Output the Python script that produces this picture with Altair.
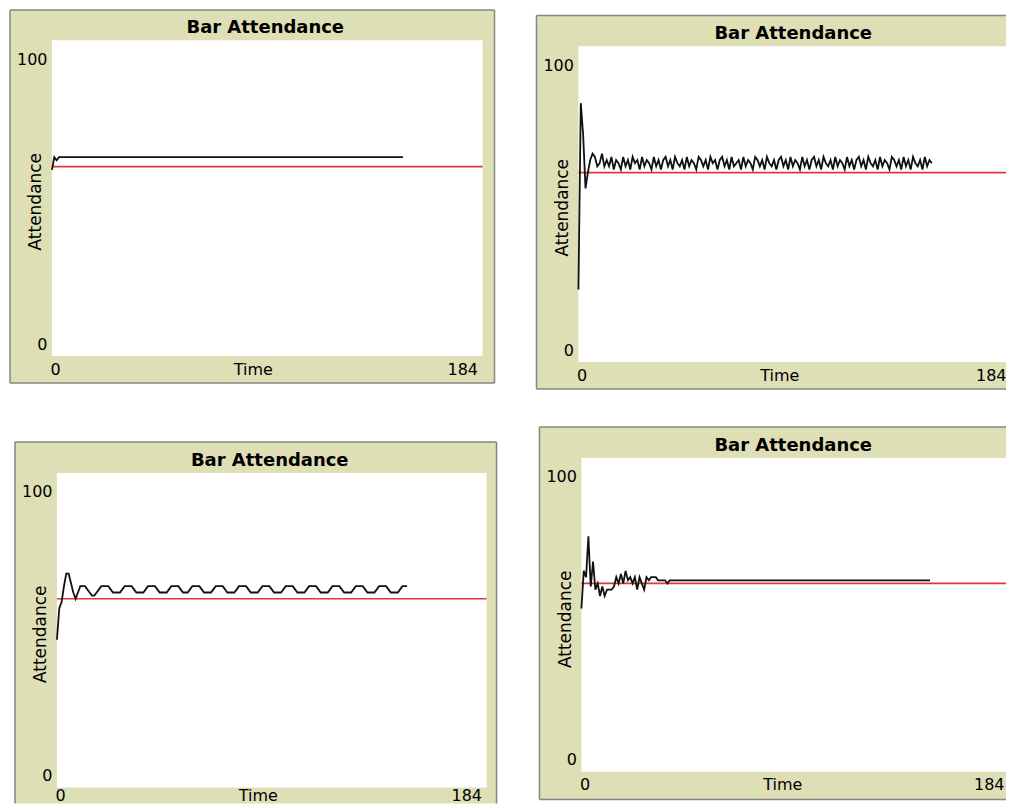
import altair as alt
import pandas as pd

# ---------------- data ----------------
TITLE = "Bar Attendance"
X_LABEL = "Time"
Y_LABEL = "Attendance"
X_MAX = 184
Y_MAX = 100
X_TICKS = [0, 184]
Y_TICKS = [0, 100]
THRESHOLD = [60]
TIME = list(range(151))  # ticks 0 .. 150

att_top_left = [
    59, 63, 62, 63, 63, 63, 63, 63, 63, 63, 63, 63, 63, 63, 63, 63, 63, 63, 63, 63,
    63, 63, 63, 63, 63, 63, 63, 63, 63, 63, 63, 63, 63, 63, 63, 63, 63, 63, 63, 63,
    63, 63, 63, 63, 63, 63, 63, 63, 63, 63, 63, 63, 63, 63, 63, 63, 63, 63, 63, 63,
    63, 63, 63, 63, 63, 63, 63, 63, 63, 63, 63, 63, 63, 63, 63, 63, 63, 63, 63, 63,
    63, 63, 63, 63, 63, 63, 63, 63, 63, 63, 63, 63, 63, 63, 63, 63, 63, 63, 63, 63,
    63, 63, 63, 63, 63, 63, 63, 63, 63, 63, 63, 63, 63, 63, 63, 63, 63, 63, 63, 63,
    63, 63, 63, 63, 63, 63, 63, 63, 63, 63, 63, 63, 63, 63, 63, 63, 63, 63, 63, 63,
    63, 63, 63, 63, 63, 63, 63, 63, 63, 63, 63,
]

att_top_right = [
    23, 82, 72, 55, 60, 64, 66, 65, 62, 63,
    66, 62, 64, 62, 65, 61, 64, 63, 61, 65,
    62, 64, 61, 65, 63, 64, 61, 65, 62, 64,
    63, 61, 65, 62, 64, 61, 64, 65, 62, 64,
    61, 65, 63, 62, 64, 61, 65, 62, 64, 63,
    61, 65, 64, 62, 64, 61, 65, 63, 64, 61,
    64, 65, 62, 64, 61, 65, 62, 63, 64, 61,
    65, 62, 64, 63, 61, 65, 64, 62, 64, 61,
    65, 63, 62, 64, 61, 64, 65, 62, 64, 61,
    65, 62, 64, 63, 61, 65, 62, 64, 61, 64,
    65, 62, 64, 61, 65, 63, 62, 64, 61, 65,
    62, 64, 63, 61, 65, 62, 64, 61, 64, 65,
    62, 64, 61, 65, 63, 62, 64, 61, 65, 62,
    64, 63, 61, 65, 64, 62, 64, 61, 65, 62,
    64, 61, 65, 63, 62, 64, 61, 65, 62, 64, 63,
]

att_bottom_left = [
    47, 57, 59, 64, 68, 68, 65, 62, 60, 62,
    64, 64, 64, 63, 62, 61, 61, 62, 63, 64,
    64, 64, 64, 63, 62, 62, 62, 62, 63, 64,
    64, 64, 64, 63, 62, 62, 62, 62, 63, 64,
    64, 64, 64, 63, 62, 62, 62, 62, 63, 64,
    64, 64, 64, 63, 62, 62, 62, 63, 64, 64,
    64, 64, 63, 62, 62, 62, 62, 63, 64, 64,
    64, 64, 63, 62, 62, 62, 62, 63, 64, 64,
    64, 64, 63, 62, 62, 62, 62, 63, 64, 64,
    64, 64, 63, 62, 62, 62, 62, 63, 64, 64,
    64, 64, 63, 62, 62, 62, 62, 63, 64, 64,
    64, 64, 63, 62, 62, 62, 62, 63, 64, 64,
    64, 64, 63, 62, 62, 62, 62, 63, 64, 64,
    64, 64, 63, 62, 62, 62, 62, 63, 64, 64,
    64, 64, 63, 62, 62, 62, 62, 63, 64, 64, 64,
]

att_bottom_right = [
    52, 64, 62, 75, 59, 67, 58, 60, 56, 59,
    56, 58, 58, 58, 59, 62, 60, 63, 60, 64,
    61, 62, 60, 62, 58, 62, 60, 58, 62, 61,
    62, 62, 62, 61, 61, 61, 61, 60, 61, 61,
    61, 61, 61, 61, 61, 61, 61, 61, 61, 61, 61, 61, 61, 61, 61, 61, 61, 61, 61, 61,
    61, 61, 61, 61, 61, 61, 61, 61, 61, 61, 61, 61, 61, 61, 61, 61, 61, 61, 61, 61,
    61, 61, 61, 61, 61, 61, 61, 61, 61, 61, 61, 61, 61, 61, 61, 61, 61, 61, 61, 61,
    61, 61, 61, 61, 61, 61, 61, 61, 61, 61, 61, 61, 61, 61, 61, 61, 61, 61, 61, 61,
    61, 61, 61, 61, 61, 61, 61, 61, 61, 61, 61, 61, 61, 61, 61, 61, 61, 61, 61, 61,
    61, 61, 61, 61, 61, 61, 61, 61, 61, 61, 61,
]

# ---------------- styling ----------------
FONT = "DejaVu Sans"
BEIGE = "#dfdfb6"
BORDER = "#858585"
RED = "#dc3a36"
BLACK = "#111111"


def panel(values, cell, plot, frame, sides, label_pad, right_label_shift=-5):
    """cell = (width, height) of the panel's slot; plot = (x0, x1, y0, y1) of the
    plotting area inside it; frame = (x0, y0, x1, y1) of the beige widget."""
    cw, ch = cell
    px0, px1, py0, py1 = plot
    fl, ft, fr, fb = frame
    one = pd.DataFrame({"k": [0]})
    df = pd.DataFrame({"t": TIME, "attendance": values})
    thr = pd.DataFrame({"threshold": THRESHOLD, "t0": [0], "t1": [X_MAX]})

    xscale = alt.Scale(domain=[0, X_MAX], range=[px0, px1], nice=False, zero=False)
    yscale = alt.Scale(domain=[0, Y_MAX], range=[py1, py0], nice=False, zero=False)

    xaxis = alt.Axis(
        values=X_TICKS, title=X_LABEL, ticks=False, tickSize=0, domain=False, grid=False,
        offset=-(ch - py1), labelFlush=True, labelOverlap=False,
        labelOffset={"condition": {"test": "datum.value == 184", "value": right_label_shift},
                     "value": -2},
        labelPadding=label_pad, labelBaseline="middle", labelFont=FONT, labelFontSize=16,
        labelColor="black", titleFont=FONT, titleFontSize=16, titleFontWeight="normal",
        titleColor="black", titleX=px0 + 201, titleY=label_pad, titleBaseline="middle",
        titleAlign="center", zindex=1,
    )
    yaxis = alt.Axis(
        values=Y_TICKS, title=Y_LABEL, ticks=False, tickSize=0, domain=False, grid=False,
        offset=-px0, labelFlush=False, labelOverlap=False, labelBaseline="middle",
        labelOffset={"condition": {"test": "datum.value == 100", "value": 19}, "value": -12},
        labelPadding=5, labelFont=FONT, labelFontSize=16, labelColor="black",
        titleFont=FONT, titleFontSize=17, titleFontWeight="normal", titleColor="black",
        titleAngle=270, titleX=-16, titleY=py0 + 161, titleBaseline="middle",
        titleAlign="center", zindex=1,
    )

    white_right = min(px1, cw)
    layers = [
        alt.Chart(one).mark_rect(fill=BEIGE).encode(
            x=alt.value(fl), x2=alt.value(fr), y=alt.value(ft), y2=alt.value(fb)
        ),
    ]
    rule = dict(color=BORDER, strokeWidth=1.5)
    if "left" in sides:
        layers.append(alt.Chart(one).mark_rule(**rule).encode(
            x=alt.value(fl), y=alt.value(ft), y2=alt.value(fb)))
    if "top" in sides:
        layers.append(alt.Chart(one).mark_rule(**rule).encode(
            x=alt.value(fl), x2=alt.value(fr), y=alt.value(ft)))
    if "right" in sides:
        layers.append(alt.Chart(one).mark_rule(**rule).encode(
            x=alt.value(fr), y=alt.value(ft), y2=alt.value(fb)))
    if "bottom" in sides:
        layers.append(alt.Chart(one).mark_rule(**rule).encode(
            x=alt.value(fl), x2=alt.value(fr), y=alt.value(fb)))

    layers += [
        alt.Chart(one).mark_rect(fill="white").encode(
            x=alt.value(px0), x2=alt.value(white_right), y=alt.value(py0), y2=alt.value(py1)
        ),
        alt.Chart(one).mark_text(
            text=TITLE, font=FONT, fontSize=18, fontWeight="bold", color="black",
            align="center", baseline="alphabetic",
        ).encode(x=alt.value((px0 + px1) / 2 - 2), y=alt.value(py0 - 7)),
        alt.Chart(thr).mark_rule(color=RED, strokeWidth=1.6, clip=True).encode(
            x=alt.X("t0:Q", scale=xscale, axis=xaxis),
            x2="t1:Q",
            y=alt.Y("threshold:Q", scale=yscale, axis=yaxis),
        ),
        alt.Chart(df).mark_line(color=BLACK, strokeWidth=1.8).encode(
            x=alt.X("t:Q", scale=xscale, axis=xaxis),
            y=alt.Y("attendance:Q", scale=yscale, axis=yaxis),
        ),
    ]
    return alt.layer(*layers).properties(width=cw, height=ch)


ALL = ("left", "top", "right", "bottom")
p1 = panel(att_top_left, (510, 412), (44, 475, 32, 348), (2, 1.5, 487, 375), ALL, 13)
p2 = panel(att_top_right, (489, 412), (61, 495, 38, 354), (19, 7, 489, 381),
           ("left", "top", "bottom"), 13, -6)
p3 = panel(att_bottom_left, (510, 384), (49, 479, 53, 368), (7, 22, 489, 384),
           ("left", "top", "right"), 8)
p4 = panel(att_bottom_right, (489, 384), (64, 492, 38, 352), (22, 7, 489, 380),
           ("left", "top", "bottom"), 13)

row1 = alt.hconcat(p1, p2, spacing=0)
row2 = alt.hconcat(p3, p4, spacing=0)
chart = (
    alt.vconcat(row1, row2, spacing=0)
    .properties(padding={"left": 0, "top": 0, "right": 0, "bottom": 0}, background="white")
    .configure(padding={"left": 0, "top": 0, "right": 0, "bottom": 0})
    .configure_view(strokeWidth=0)
)

chart.save("out.html", embed_options={"renderer": "svg", "actions": False})
